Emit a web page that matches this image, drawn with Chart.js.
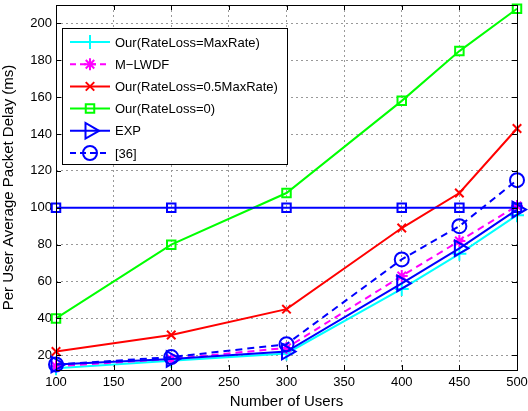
<!DOCTYPE html>
<html>
<head>
<meta charset="utf-8">
<script src="https://cdn.jsdelivr.net/npm/chart.js@4"></script>
<style>
  body { margin: 0; background: #fff; }
  #wrap { width: 528px; height: 411px; }
</style>
</head>
<body>
<div id="wrap"><canvas id="grafico" width="528" height="411"></canvas></div>
<script>
// datos
const usuarios = [100, 200, 300, 400, 450, 500];
const rateLossMax = [13, 17, 21, 56, 75, 96];
const mlwdf = [14, 18, 24, 63, 82, 101];
const rateLossMedio = [22, 31, 45, 89, 108, 143];
const rateLossCero = [40, 80, 108, 158, 185, 208];
const exp = [15, 18, 22, 59, 78, 99];
const ref36 = [15, 19, 26, 72, 90, 115];
const lineaCien = [100, 100, 100, 100, 100, 100];
const ticksX = [100, 150, 200, 250, 300, 350, 400, 450, 500];
const ticksY = [20, 40, 60, 80, 100, 120, 140, 160, 180, 200];

const fuente = '"Liberation Sans", Arial, sans-serif';

function puntos(vals) {
    return usuarios.map((u, i) => ({ x: u, y: vals[i] }));
}

const series = [
    { label: 'Our(RateLoss=MaxRate)', data: puntos(rateLossMax), color: '#00ffff', style: 'cross', dash: [], r: 7 },
    { label: 'M\u2212LWDF', data: puntos(mlwdf), color: '#ff00ff', style: 'star', dash: [7, 5], r: 6 },
    { label: 'Our(RateLoss=0.5MaxRate)', data: puntos(rateLossMedio), color: '#ff0000', style: 'crossRot', dash: [], r: 6 },
    { label: 'Our(RateLoss=0)', data: puntos(rateLossCero), color: '#00ff00', style: 'rect', dash: [], r: 6 },
    { label: 'EXP', data: puntos(exp), color: '#0000ff', style: 'triangle', dash: [], r: 9, rot: 90 },
    { label: '[36]', data: puntos(ref36), color: '#0000ff', style: 'circle', dash: [7, 5], r: 7 },
    { label: '', data: puntos(lineaCien), color: '#0000ff', style: 'rect', dash: [], r: 6, oculta: true }
];

const datasets = series.map((s, i) => ({
    label: s.label,
    data: s.data,
    borderColor: s.color,
    backgroundColor: 'rgba(0,0,0,0)',
    borderWidth: 2,
    borderDash: s.dash,
    pointStyle: s.style,
    pointRadius: s.r,
    pointRotation: s.rot || 0,
    pointBorderColor: s.color,
    pointBackgroundColor: 'rgba(0,0,0,0)',
    pointBorderWidth: 2,
    fill: false,
    tension: 0,
    clip: false,
    order: -i,
    enLeyenda: !s.oculta
}));

// caja del grafico y leyenda dentro del area
const cajaYLeyenda = {
    id: 'cajaYLeyenda',
    afterDatasetsDraw(chart) {
        const ctx = chart.ctx;
        const a = chart.chartArea;
        ctx.save();
        ctx.strokeStyle = '#000';
        ctx.lineWidth = 1;
        ctx.setLineDash([]);
        ctx.strokeRect(a.left + 0.5, a.top + 0.5, a.right - a.left, a.bottom - a.top);

        // marcas hacia dentro en los cuatro lados
        const sx = chart.scales.x, sy = chart.scales.y;
        ctx.beginPath();
        ticksX.forEach(v => {
            const px = Math.round(sx.getPixelForValue(v)) + 0.5;
            ctx.moveTo(px, a.top); ctx.lineTo(px, a.top + 5);
            ctx.moveTo(px, a.bottom); ctx.lineTo(px, a.bottom - 5);
        });
        ticksY.forEach(v => {
            const py = Math.round(sy.getPixelForValue(v)) + 0.5;
            ctx.moveTo(a.right, py); ctx.lineTo(a.right - 5, py);
            ctx.moveTo(a.left, py); ctx.lineTo(a.left + 5, py);
        });
        ctx.stroke();

        // leyenda
        const lx = a.left + 6, ly = a.top + 23, lw = 225, lh = 136;
        ctx.fillStyle = '#fff';
        ctx.fillRect(lx, ly, lw, lh);
        ctx.strokeRect(lx + 0.5, ly + 0.5, lw, lh);
        ctx.font = '13px ' + fuente;
        ctx.textBaseline = 'middle';
        const visibles = chart.data.datasets.filter(d => d.enLeyenda);
        visibles.forEach((d, i) => {
            const y = ly + 14 + i * 22.2;
            ctx.strokeStyle = d.borderColor;
            ctx.lineWidth = 2;
            ctx.setLineDash(d.borderDash.length ? [6, 4] : []);
            ctx.beginPath();
            ctx.moveTo(lx + 8, y); ctx.lineTo(lx + 48, y);
            ctx.stroke();
            ctx.setLineDash([]);
            ctx.fillStyle = 'rgba(0,0,0,0)';
            Chart.helpers.drawPoint(ctx, {
                pointStyle: d.pointStyle,
                rotation: d.pointRotation,
                radius: d.pointRadius,
                borderWidth: 2
            }, lx + 28, y);
            ctx.fillStyle = '#000';
            ctx.fillText(d.label, lx + 53, y + 1);
        });
        ctx.restore();
    }
};

new Chart(document.getElementById('grafico').getContext('2d'), {
    type: 'line',
    data: { datasets: datasets },
    options: {
        responsive: false,
        animation: false,
        layout: { autoPadding: false, padding: { left: 0, right: 11, top: 5, bottom: 0 } },
        plugins: { legend: { display: false }, tooltip: { enabled: false } },
        scales: {
            x: {
                type: 'linear',
                min: 100,
                max: 500,
                afterBuildTicks: s => { s.ticks = ticksX.map(v => ({ value: v })); },
                afterFit: s => { s.height = 41; s.paddingLeft = 0; s.paddingRight = 0; s.paddingTop = 0; },
                ticks: { color: '#000', font: { family: fuente, size: 13 }, padding: 5, maxRotation: 0 },
                grid: { color: '#999', lineWidth: 1, drawTicks: false },
                border: { display: false, dash: [2, 3] },
                title: { display: true, text: 'Number of Users', color: '#000', font: { family: fuente, size: 15 }, padding: { top: 0, bottom: 0 } }
            },
            y: {
                min: 12,
                max: 210,
                afterBuildTicks: s => { s.ticks = ticksY.map(v => ({ value: v })); },
                afterFit: s => { s.width = 56; s.paddingTop = 0; s.paddingBottom = 0; },
                ticks: { color: '#000', font: { family: fuente, size: 13 }, padding: 4 },
                grid: { color: '#999', lineWidth: 1, drawTicks: false },
                border: { display: false, dash: [2, 3] },
                title: { display: true, text: 'Per User Average Packet Delay (ms)', color: '#000', font: { family: fuente, size: 15 }, padding: { top: 0, bottom: 2 } }
            }
        }
    },
    plugins: [cajaYLeyenda]
});
</script>
</body>
</html>
